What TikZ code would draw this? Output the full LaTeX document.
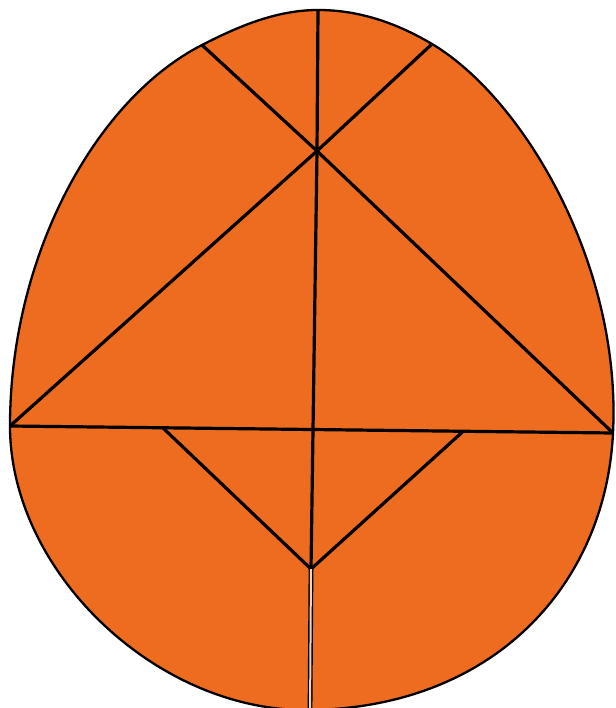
\documentclass[tikz,border=0pt]{standalone}
\definecolor{eggorange}{RGB}{237,108,32}
\definecolor{gapcol}{RGB}{235,215,190}
\tikzset{
  eggline/.style={draw=black, line width=2.3pt},
  cutline/.style={draw=black, line width=3.2pt, line join=round, line cap=round}
}
\begin{document}
\begin{tikzpicture}[x=1pt,y=-1pt]
\useasboundingbox (0,0) rectangle (615,708);
\fill[white] (0,0) rectangle (615,708);
% key points
\coordinate (T) at (318,10);
\coordinate (X) at (317,151);
\coordinate (UL) at (202,45);
\coordinate (UR) at (432,44);
\coordinate (L) at (10,426);
\coordinate (R) at (613,433);
\coordinate (P) at (163,428);
\coordinate (Q) at (463,431.5);
\coordinate (Y) at (311,569);
\coordinate (Bt) at (305,710);
\coordinate (B) at (310,715);
% egg outline
\def\eggpath{(T) .. controls (360,10) and (397.6,23.6) .. (UR)
  .. controls (522.3,97.6) and (621.5,263) .. (R)
  .. controls (605.3,588) and (490,710) .. (Bt)
  .. controls (155,710) and (10,571) .. (L)
  .. controls (10,256) and (95.2,99.6) .. (UL)
  .. controls (237.6,26.8) and (276,10) .. (T) -- cycle}
\fill[eggorange] \eggpath;
\begin{scope}
\clip \eggpath;
\draw[cutline] (T) -- (X) -- (Y);
\draw[cutline] (UL) -- (X) -- (UR);
\draw[cutline] (L) -- (X) -- (R);
\draw[cutline] (L) -- (R);
\draw[cutline] (P) -- (Y) -- (Q);
\draw[black, line width=1.4pt, double=gapcol, double distance=2pt] (Y) -- (B);
\end{scope}
\draw[eggline] \eggpath;
\end{tikzpicture}
\end{document}
